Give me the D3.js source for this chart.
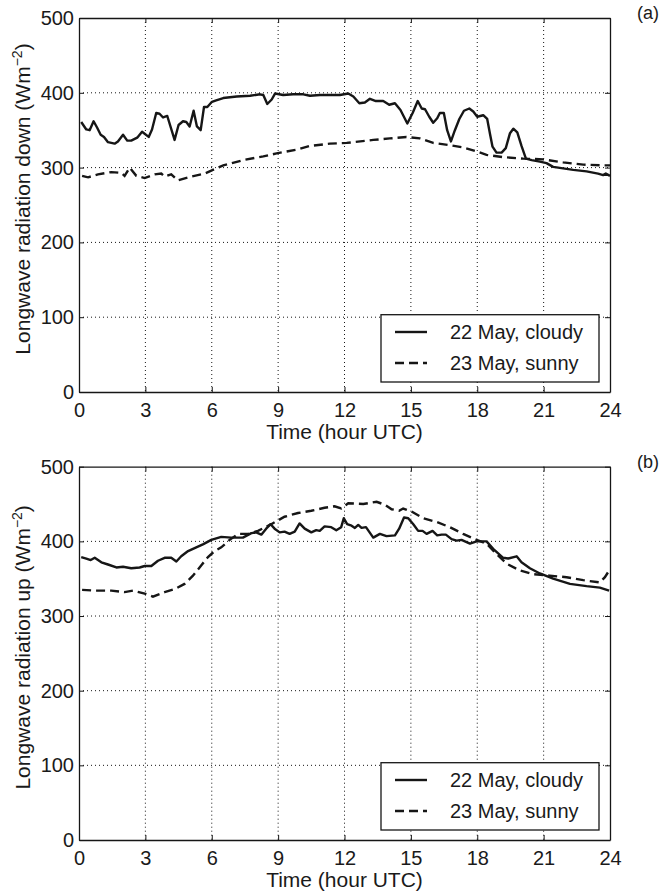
<!DOCTYPE html>
<html lang="en">
<head>
<meta charset="utf-8">
<title>Longwave radiation</title>
<script src="https://d3js.org/d3.v7.min.js"></script>
<style>
  body { margin: 0; background: #fff; }
  svg text { font-family: "Liberation Sans", Arial, Helvetica, sans-serif; fill: #1a1a1a; }
</style>
</head>
<body>
<script>
// tick labels
const hourTicks = [0, 3, 6, 9, 12, 15, 18, 21, 24];
const valueTicks = [0, 100, 200, 300, 400, 500];
const seriesNames = ["22 May, cloudy", "23 May, sunny"];

// (a) longwave down, 22 May cloudy
const downCloudyT = [0.1, 0.33, 0.48, 0.66, 0.81, 0.98, 1.13, 1.31, 1.61, 1.76, 1.99, 2.18, 2.36, 2.63, 2.85, 3.15, 3.30, 3.49, 3.64, 3.80, 3.99, 4.32, 4.50, 4.70, 4.85, 5.0, 5.18, 5.33, 5.50, 5.65, 5.80, 6.01, 6.2, 6.52, 7.13, 7.73, 8.18, 8.33, 8.51, 8.71, 8.86, 9.23, 9.68, 10.14, 10.44, 10.89, 11.34, 11.79, 12.17, 12.4, 12.67, 12.92, 13.15, 13.42, 13.75, 14.02, 14.28, 14.53, 14.84, 15.08, 15.31, 15.49, 15.64, 15.83, 16.01, 16.19, 16.31, 16.49, 16.64, 16.81, 16.99, 17.19, 17.40, 17.64, 17.82, 18.0, 18.27, 18.45, 18.57, 18.69, 18.87, 19.10, 19.29, 19.48, 19.63, 19.81, 20.0, 20.2, 20.46, 20.83, 21.13, 21.43, 21.88, 22.34, 22.94, 23.46, 23.69, 23.81, 24.0];
const downCloudyV = [361, 351, 350, 362, 354, 344, 341, 334, 332, 335, 344, 336, 336, 340, 348, 341, 351, 373, 372, 367, 369, 337, 357, 362, 361, 355, 376, 355, 350, 381, 381, 388, 390, 393, 395, 396, 398, 397, 385, 391, 399, 397, 398, 398, 396, 397, 397, 397, 399, 395, 386, 387, 392, 389, 389, 384, 386, 377, 359, 373, 389, 379, 378, 368, 360, 366, 373, 373, 350, 335, 350, 365, 376, 379, 375, 368, 370, 365, 346, 328, 320, 320, 326, 346, 352, 347, 329, 312, 310, 308, 306, 301, 299, 297, 295, 292, 290, 292, 289];

// (a) longwave down, 23 May sunny
const downSunnyT = [0.14, 0.41, 0.86, 1.46, 1.91, 2.06, 2.29, 2.59, 2.97, 3.42, 3.72, 3.87, 4.17, 4.47, 5.08, 5.68, 6.13, 6.52, 7.42, 8.33, 8.93, 9.84, 10.44, 11.34, 12.1, 13.3, 14.05, 14.8, 15.41, 16.01, 16.76, 17.37, 18.04, 18.42, 19.17, 20.08, 20.98, 21.88, 22.79, 23.69, 24.0];
const downSunnyV = [289, 287, 291, 294, 293, 289, 300, 289, 286, 291, 292, 288, 291, 283, 288, 292, 298, 303, 310, 315, 319, 324, 329, 332, 333, 337, 339, 341, 339, 333, 330, 327, 321, 317, 314, 312, 311, 307, 304, 303, 303];

// (b) longwave up, 22 May cloudy
const upCloudyT = [0.1, 0.33, 0.53, 0.71, 1.01, 1.31, 1.69, 1.99, 2.36, 2.74, 2.97, 3.27, 3.57, 3.87, 4.17, 4.40, 4.62, 4.93, 5.30, 5.60, 5.98, 6.43, 6.88, 7.41, 7.79, 8.01, 8.24, 8.46, 8.66, 8.84, 9.07, 9.29, 9.52, 9.75, 9.97, 10.2, 10.5, 10.72, 10.88, 11.1, 11.4, 11.63, 11.85, 11.97, 12.12, 12.32, 12.47, 12.62, 12.77, 12.97, 13.30, 13.6, 13.9, 14.28, 14.47, 14.69, 14.88, 15.11, 15.33, 15.53, 15.71, 15.98, 16.19, 16.39, 16.58, 16.84, 17.07, 17.29, 17.67, 17.97, 18.42, 18.72, 19.17, 19.40, 19.78, 20.0, 20.38, 20.83, 21.43, 22.19, 22.94, 23.54, 23.96];
const upCloudyV = [379, 377, 375, 378, 372, 369, 365, 366, 364, 365, 367, 367, 374, 378, 378, 373, 380, 387, 392, 396, 402, 406, 405, 405, 411, 412, 409, 417, 423, 417, 412, 413, 410, 413, 424, 417, 412, 415, 414, 420, 419, 415, 419, 431, 423, 421, 418, 422, 418, 419, 405, 410, 407, 408, 417, 432, 431, 423, 414, 414, 410, 414, 408, 409, 409, 403, 401, 402, 397, 400, 400, 390, 378, 377, 380, 372, 364, 357, 350, 343, 340, 338, 334];

// (b) longwave up, 23 May sunny
const upSunnyT = [0.14, 0.71, 1.46, 2.06, 2.44, 2.97, 3.34, 3.87, 4.32, 4.77, 5.15, 5.53, 5.83, 6.13, 6.43, 6.81, 7.19, 7.64, 8.09, 8.69, 9.29, 9.90, 10.5, 11.1, 11.55, 11.85, 12.17, 12.85, 13.45, 13.83, 14.13, 14.47, 14.65, 15.03, 15.56, 16.16, 16.76, 17.36, 17.97, 18.42, 18.87, 19.33, 19.93, 20.53, 21.28, 22.04, 22.79, 23.54, 23.77, 23.92];
const upSunnyV = [335, 334, 334, 332, 334, 330, 326, 332, 336, 343, 354, 368, 379, 387, 392, 402, 410, 410, 414, 423, 433, 438, 441, 445, 447, 444, 451, 450, 453, 449, 443, 441, 444, 440, 431, 426, 419, 410, 402, 397, 383, 370, 361, 356, 354, 352, 348, 345, 352, 359];

const width = 662;
const height = 896;
const left = 79, right = 610;
const ink = "#161616";
const dash = "9,5";

const svg = d3.select("body").append("svg")
  .attr("width", width)
  .attr("height", height);

const xScale = d3.scaleLinear().domain([0, 24]).range([left, right]);

const zip = (t, v) => t.map((d, i) => ({t: d, v: v[i]}));

function drawPanel(top, bottom, cloudy, sunny, labelWord, letter) {
  const yScale = d3.scaleLinear().domain([0, 500]).range([bottom, top]);
  const g = svg.append("g");

  // dotted grid
  g.selectAll(".vgrid").data(hourTicks.slice(1, -1)).enter().append("line")
    .attr("x1", d => xScale(d)).attr("x2", d => xScale(d))
    .attr("y1", top).attr("y2", bottom)
    .attr("stroke", ink).attr("stroke-width", 1).attr("stroke-dasharray", "1,3");
  g.selectAll(".hgrid").data(valueTicks.slice(1, -1)).enter().append("line")
    .attr("x1", left).attr("x2", right)
    .attr("y1", d => yScale(d)).attr("y2", d => yScale(d))
    .attr("stroke", ink).attr("stroke-width", 1).attr("stroke-dasharray", "1,3");

  // axes, ticks pointing inwards like matlab
  const bottomAxis = g.append("g").attr("transform", "translate(0," + bottom + ")")
    .call(d3.axisBottom(xScale).tickValues(hourTicks).tickSize(-5).tickPadding(11).tickSizeOuter(0));
  const topAxis = g.append("g").attr("transform", "translate(0," + top + ")")
    .call(d3.axisTop(xScale).tickValues(hourTicks).tickSize(-5).tickFormat("").tickSizeOuter(0));
  const leftAxis = g.append("g").attr("transform", "translate(" + left + ",0)")
    .call(d3.axisLeft(yScale).tickValues(valueTicks).tickSize(-5).tickPadding(5).tickSizeOuter(0));
  const rightAxis = g.append("g").attr("transform", "translate(" + right + ",0)")
    .call(d3.axisRight(yScale).tickValues(valueTicks).tickSize(-5).tickFormat("").tickSizeOuter(0));
  [bottomAxis, topAxis, leftAxis, rightAxis].forEach(a => {
    a.selectAll("path").attr("stroke", ink).attr("stroke-width", 1.3);
    a.selectAll("line").attr("stroke", ink);
    a.selectAll("text").attr("font-size", 20).attr("fill", ink)
      .style("font-family", '"Liberation Sans", Arial, sans-serif');
  });

  const line = d3.line().x(d => xScale(d.t)).y(d => yScale(d.v));

  g.append("path").datum(cloudy).attr("d", line)
    .attr("fill", "none").attr("stroke", ink).attr("stroke-width", 2.4)
    .attr("stroke-linejoin", "round");
  g.append("path").datum(sunny).attr("d", line)
    .attr("fill", "none").attr("stroke", ink).attr("stroke-width", 2.4)
    .attr("stroke-dasharray", dash);

  // axis titles
  g.append("text")
    .attr("x", (left + right) / 2).attr("y", bottom + 47)
    .attr("text-anchor", "middle").attr("font-size", 21)
    .text("Time (hour UTC)");

  const yl = g.append("text")
    .attr("transform", "translate(30," + ((top + bottom) / 2 - 6) + ") rotate(-90)")
    .attr("text-anchor", "middle").attr("font-size", 21);
  yl.append("tspan").text("Longwave radiation " + labelWord + " (Wm");
  yl.append("tspan").attr("dy", -8).attr("font-size", 14).text("\u22122");
  yl.append("tspan").attr("dy", 8).text(")");

  g.append("text").attr("x", 637).attr("y", top + 1)
    .attr("font-size", 18).text("(" + letter + ")");

  // legend
  const ly = bottom - 77.3;
  const legend = g.append("g");
  legend.append("rect")
    .attr("x", 381).attr("y", ly).attr("width", 218).attr("height", 67.3)
    .attr("fill", "#fff").attr("stroke", ink).attr("stroke-width", 1.3);
  [17.3, 48.3].forEach((dy, i) => {
    legend.append("line")
      .attr("x1", 395).attr("x2", 427)
      .attr("y1", ly + dy).attr("y2", ly + dy)
      .attr("stroke", ink).attr("stroke-width", 2.4)
      .attr("stroke-dasharray", i === 1 ? dash : null);
    legend.append("text")
      .attr("x", 450).attr("y", ly + dy + 7)
      .attr("font-size", 20).text(seriesNames[i]);
  });
}

drawPanel(18, 392, zip(downCloudyT, downCloudyV), zip(downSunnyT, downSunnyV), "down", "a");
drawPanel(466.7, 840, zip(upCloudyT, upCloudyV), zip(upSunnyT, upSunnyV), "up", "b");
</script>
</body>
</html>
